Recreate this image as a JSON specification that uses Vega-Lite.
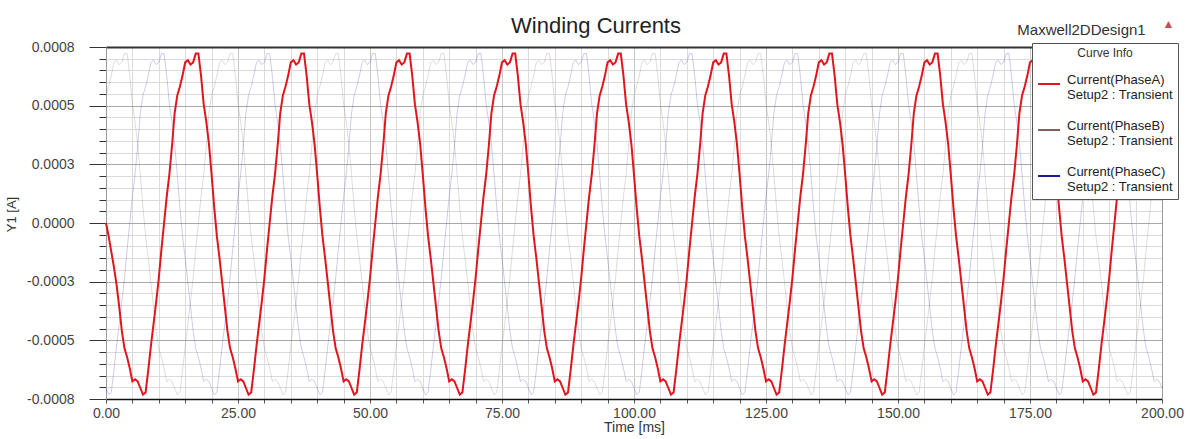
{
"$schema": "https://vega.github.io/schema/vega-lite/v6.json",
"width": 1056, "height": 352,
"autosize": "none",
"padding": {"left": 106, "top": 47, "right": 30, "bottom": 40},
"background": "white",
"config": {"font": "Liberation Sans", "view": {"stroke": null}},
"title": {"text": "Winding Currents", "fontSize": 22, "fontWeight": "normal", "color": "#222", "anchor": "middle", "dx": -38, "dy": 27, "offset": 6},
"data": {"values": [
{"t":0,"A":0,"B":0.00058,"C":-0.00075},{"t":0.5,"A":-0.00006,"B":0.00062,"C":-0.00078},{"t":1,"A":-0.00013,"B":0.00067,"C":-0.00077},{"t":1.5,"A":-0.0002,"B":0.00073,"C":-0.00067},{"t":2,"A":-0.00028,"B":0.00074,"C":-0.00056},{"t":2.5,"A":-0.00038,"B":0.00072,"C":-0.00046},{"t":3,"A":-0.00049,"B":0.00073,"C":-0.00036},{"t":3.5,"A":-0.00057,"B":0.00077,"C":-0.00025},{"t":4,"A":-0.00061,"B":0.00077,"C":-0.00012},{"t":4.5,"A":-0.00066,"B":0.00067,"C":0},{"t":5,"A":-0.00072,"B":0.00054,"C":0.00012},{"t":5.5,"A":-0.00071,"B":0.00046,"C":0.00022},{"t":6,"A":-0.00072,"B":0.00036,"C":0.00035},{"t":6.5,"A":-0.00075,"B":0.00022,"C":0.0005},{"t":7,"A":-0.00078,"B":0.00007,"C":0.00058},{"t":7.5,"A":-0.00077,"B":-0.00006,"C":0.00062},{"t":8,"A":-0.00067,"B":-0.00016,"C":0.00067},{"t":8.5,"A":-0.00056,"B":-0.00027,"C":0.00073},{"t":9,"A":-0.00046,"B":-0.00038,"C":0.00074},{"t":9.5,"A":-0.00036,"B":-0.00049,"C":0.00072},{"t":10,"A":-0.00025,"B":-0.00057,"C":0.00073},{"t":10.5,"A":-0.00012,"B":-0.00061,"C":0.00077},{"t":11,"A":0,"B":-0.00066,"C":0.00077},{"t":11.5,"A":0.00012,"B":-0.00072,"C":0.00067},{"t":12,"A":0.00022,"B":-0.00071,"C":0.00054},{"t":12.5,"A":0.00035,"B":-0.00072,"C":0.00046},{"t":13,"A":0.0005,"B":-0.00075,"C":0.00036},{"t":13.5,"A":0.00058,"B":-0.00078,"C":0.00022},{"t":14,"A":0.00062,"B":-0.00077,"C":0.00007},{"t":14.5,"A":0.00067,"B":-0.00067,"C":-0.00006},{"t":15,"A":0.00073,"B":-0.00056,"C":-0.00016},{"t":15.5,"A":0.00074,"B":-0.00046,"C":-0.00027},{"t":16,"A":0.00072,"B":-0.00036,"C":-0.00038},{"t":16.5,"A":0.00073,"B":-0.00025,"C":-0.00049},{"t":17,"A":0.00077,"B":-0.00012,"C":-0.00057},{"t":17.5,"A":0.00077,"B":0,"C":-0.00061},{"t":18,"A":0.00067,"B":0.00012,"C":-0.00066},{"t":18.5,"A":0.00054,"B":0.00022,"C":-0.00072},{"t":19,"A":0.00046,"B":0.00035,"C":-0.00071},{"t":19.5,"A":0.00036,"B":0.0005,"C":-0.00072},
{"t":20,"A":0.00022,"B":0.00058,"C":-0.00075},{"t":20.5,"A":0.00007,"B":0.00062,"C":-0.00078},{"t":21,"A":-0.00006,"B":0.00067,"C":-0.00077},{"t":21.5,"A":-0.00016,"B":0.00073,"C":-0.00067},{"t":22,"A":-0.00027,"B":0.00074,"C":-0.00056},{"t":22.5,"A":-0.00038,"B":0.00072,"C":-0.00046},{"t":23,"A":-0.00049,"B":0.00073,"C":-0.00036},{"t":23.5,"A":-0.00057,"B":0.00077,"C":-0.00025},{"t":24,"A":-0.00061,"B":0.00077,"C":-0.00012},{"t":24.5,"A":-0.00066,"B":0.00067,"C":0},{"t":25,"A":-0.00072,"B":0.00054,"C":0.00012},{"t":25.5,"A":-0.00071,"B":0.00046,"C":0.00022},{"t":26,"A":-0.00072,"B":0.00036,"C":0.00035},{"t":26.5,"A":-0.00075,"B":0.00022,"C":0.0005},{"t":27,"A":-0.00078,"B":0.00007,"C":0.00058},{"t":27.5,"A":-0.00077,"B":-0.00006,"C":0.00062},{"t":28,"A":-0.00067,"B":-0.00016,"C":0.00067},{"t":28.5,"A":-0.00056,"B":-0.00027,"C":0.00073},{"t":29,"A":-0.00046,"B":-0.00038,"C":0.00074},{"t":29.5,"A":-0.00036,"B":-0.00049,"C":0.00072},{"t":30,"A":-0.00025,"B":-0.00057,"C":0.00073},{"t":30.5,"A":-0.00012,"B":-0.00061,"C":0.00077},{"t":31,"A":0,"B":-0.00066,"C":0.00077},{"t":31.5,"A":0.00012,"B":-0.00072,"C":0.00067},{"t":32,"A":0.00022,"B":-0.00071,"C":0.00054},{"t":32.5,"A":0.00035,"B":-0.00072,"C":0.00046},{"t":33,"A":0.0005,"B":-0.00075,"C":0.00036},{"t":33.5,"A":0.00058,"B":-0.00078,"C":0.00022},{"t":34,"A":0.00062,"B":-0.00077,"C":0.00007},{"t":34.5,"A":0.00067,"B":-0.00067,"C":-0.00006},{"t":35,"A":0.00073,"B":-0.00056,"C":-0.00016},{"t":35.5,"A":0.00074,"B":-0.00046,"C":-0.00027},{"t":36,"A":0.00072,"B":-0.00036,"C":-0.00038},{"t":36.5,"A":0.00073,"B":-0.00025,"C":-0.00049},{"t":37,"A":0.00077,"B":-0.00012,"C":-0.00057},{"t":37.5,"A":0.00077,"B":0,"C":-0.00061},{"t":38,"A":0.00067,"B":0.00012,"C":-0.00066},{"t":38.5,"A":0.00054,"B":0.00022,"C":-0.00072},{"t":39,"A":0.00046,"B":0.00035,"C":-0.00071},{"t":39.5,"A":0.00036,"B":0.0005,"C":-0.00072},
{"t":40,"A":0.00022,"B":0.00058,"C":-0.00075},{"t":40.5,"A":0.00007,"B":0.00062,"C":-0.00078},{"t":41,"A":-0.00006,"B":0.00067,"C":-0.00077},{"t":41.5,"A":-0.00016,"B":0.00073,"C":-0.00067},{"t":42,"A":-0.00027,"B":0.00074,"C":-0.00056},{"t":42.5,"A":-0.00038,"B":0.00072,"C":-0.00046},{"t":43,"A":-0.00049,"B":0.00073,"C":-0.00036},{"t":43.5,"A":-0.00057,"B":0.00077,"C":-0.00025},{"t":44,"A":-0.00061,"B":0.00077,"C":-0.00012},{"t":44.5,"A":-0.00066,"B":0.00067,"C":0},{"t":45,"A":-0.00072,"B":0.00054,"C":0.00012},{"t":45.5,"A":-0.00071,"B":0.00046,"C":0.00022},{"t":46,"A":-0.00072,"B":0.00036,"C":0.00035},{"t":46.5,"A":-0.00075,"B":0.00022,"C":0.0005},{"t":47,"A":-0.00078,"B":0.00007,"C":0.00058},{"t":47.5,"A":-0.00077,"B":-0.00006,"C":0.00062},{"t":48,"A":-0.00067,"B":-0.00016,"C":0.00067},{"t":48.5,"A":-0.00056,"B":-0.00027,"C":0.00073},{"t":49,"A":-0.00046,"B":-0.00038,"C":0.00074},{"t":49.5,"A":-0.00036,"B":-0.00049,"C":0.00072},{"t":50,"A":-0.00025,"B":-0.00057,"C":0.00073},{"t":50.5,"A":-0.00012,"B":-0.00061,"C":0.00077},{"t":51,"A":0,"B":-0.00066,"C":0.00077},{"t":51.5,"A":0.00012,"B":-0.00072,"C":0.00067},{"t":52,"A":0.00022,"B":-0.00071,"C":0.00054},{"t":52.5,"A":0.00035,"B":-0.00072,"C":0.00046},{"t":53,"A":0.0005,"B":-0.00075,"C":0.00036},{"t":53.5,"A":0.00058,"B":-0.00078,"C":0.00022},{"t":54,"A":0.00062,"B":-0.00077,"C":0.00007},{"t":54.5,"A":0.00067,"B":-0.00067,"C":-0.00006},{"t":55,"A":0.00073,"B":-0.00056,"C":-0.00016},{"t":55.5,"A":0.00074,"B":-0.00046,"C":-0.00027},{"t":56,"A":0.00072,"B":-0.00036,"C":-0.00038},{"t":56.5,"A":0.00073,"B":-0.00025,"C":-0.00049},{"t":57,"A":0.00077,"B":-0.00012,"C":-0.00057},{"t":57.5,"A":0.00077,"B":0,"C":-0.00061},{"t":58,"A":0.00067,"B":0.00012,"C":-0.00066},{"t":58.5,"A":0.00054,"B":0.00022,"C":-0.00072},{"t":59,"A":0.00046,"B":0.00035,"C":-0.00071},{"t":59.5,"A":0.00036,"B":0.0005,"C":-0.00072},
{"t":60,"A":0.00022,"B":0.00058,"C":-0.00075},{"t":60.5,"A":0.00007,"B":0.00062,"C":-0.00078},{"t":61,"A":-0.00006,"B":0.00067,"C":-0.00077},{"t":61.5,"A":-0.00016,"B":0.00073,"C":-0.00067},{"t":62,"A":-0.00027,"B":0.00074,"C":-0.00056},{"t":62.5,"A":-0.00038,"B":0.00072,"C":-0.00046},{"t":63,"A":-0.00049,"B":0.00073,"C":-0.00036},{"t":63.5,"A":-0.00057,"B":0.00077,"C":-0.00025},{"t":64,"A":-0.00061,"B":0.00077,"C":-0.00012},{"t":64.5,"A":-0.00066,"B":0.00067,"C":0},{"t":65,"A":-0.00072,"B":0.00054,"C":0.00012},{"t":65.5,"A":-0.00071,"B":0.00046,"C":0.00022},{"t":66,"A":-0.00072,"B":0.00036,"C":0.00035},{"t":66.5,"A":-0.00075,"B":0.00022,"C":0.0005},{"t":67,"A":-0.00078,"B":0.00007,"C":0.00058},{"t":67.5,"A":-0.00077,"B":-0.00006,"C":0.00062},{"t":68,"A":-0.00067,"B":-0.00016,"C":0.00067},{"t":68.5,"A":-0.00056,"B":-0.00027,"C":0.00073},{"t":69,"A":-0.00046,"B":-0.00038,"C":0.00074},{"t":69.5,"A":-0.00036,"B":-0.00049,"C":0.00072},{"t":70,"A":-0.00025,"B":-0.00057,"C":0.00073},{"t":70.5,"A":-0.00012,"B":-0.00061,"C":0.00077},{"t":71,"A":0,"B":-0.00066,"C":0.00077},{"t":71.5,"A":0.00012,"B":-0.00072,"C":0.00067},{"t":72,"A":0.00022,"B":-0.00071,"C":0.00054},{"t":72.5,"A":0.00035,"B":-0.00072,"C":0.00046},{"t":73,"A":0.0005,"B":-0.00075,"C":0.00036},{"t":73.5,"A":0.00058,"B":-0.00078,"C":0.00022},{"t":74,"A":0.00062,"B":-0.00077,"C":0.00007},{"t":74.5,"A":0.00067,"B":-0.00067,"C":-0.00006},{"t":75,"A":0.00073,"B":-0.00056,"C":-0.00016},{"t":75.5,"A":0.00074,"B":-0.00046,"C":-0.00027},{"t":76,"A":0.00072,"B":-0.00036,"C":-0.00038},{"t":76.5,"A":0.00073,"B":-0.00025,"C":-0.00049},{"t":77,"A":0.00077,"B":-0.00012,"C":-0.00057},{"t":77.5,"A":0.00077,"B":0,"C":-0.00061},{"t":78,"A":0.00067,"B":0.00012,"C":-0.00066},{"t":78.5,"A":0.00054,"B":0.00022,"C":-0.00072},{"t":79,"A":0.00046,"B":0.00035,"C":-0.00071},{"t":79.5,"A":0.00036,"B":0.0005,"C":-0.00072},
{"t":80,"A":0.00022,"B":0.00058,"C":-0.00075},{"t":80.5,"A":0.00007,"B":0.00062,"C":-0.00078},{"t":81,"A":-0.00006,"B":0.00067,"C":-0.00077},{"t":81.5,"A":-0.00016,"B":0.00073,"C":-0.00067},{"t":82,"A":-0.00027,"B":0.00074,"C":-0.00056},{"t":82.5,"A":-0.00038,"B":0.00072,"C":-0.00046},{"t":83,"A":-0.00049,"B":0.00073,"C":-0.00036},{"t":83.5,"A":-0.00057,"B":0.00077,"C":-0.00025},{"t":84,"A":-0.00061,"B":0.00077,"C":-0.00012},{"t":84.5,"A":-0.00066,"B":0.00067,"C":0},{"t":85,"A":-0.00072,"B":0.00054,"C":0.00012},{"t":85.5,"A":-0.00071,"B":0.00046,"C":0.00022},{"t":86,"A":-0.00072,"B":0.00036,"C":0.00035},{"t":86.5,"A":-0.00075,"B":0.00022,"C":0.0005},{"t":87,"A":-0.00078,"B":0.00007,"C":0.00058},{"t":87.5,"A":-0.00077,"B":-0.00006,"C":0.00062},{"t":88,"A":-0.00067,"B":-0.00016,"C":0.00067},{"t":88.5,"A":-0.00056,"B":-0.00027,"C":0.00073},{"t":89,"A":-0.00046,"B":-0.00038,"C":0.00074},{"t":89.5,"A":-0.00036,"B":-0.00049,"C":0.00072},{"t":90,"A":-0.00025,"B":-0.00057,"C":0.00073},{"t":90.5,"A":-0.00012,"B":-0.00061,"C":0.00077},{"t":91,"A":0,"B":-0.00066,"C":0.00077},{"t":91.5,"A":0.00012,"B":-0.00072,"C":0.00067},{"t":92,"A":0.00022,"B":-0.00071,"C":0.00054},{"t":92.5,"A":0.00035,"B":-0.00072,"C":0.00046},{"t":93,"A":0.0005,"B":-0.00075,"C":0.00036},{"t":93.5,"A":0.00058,"B":-0.00078,"C":0.00022},{"t":94,"A":0.00062,"B":-0.00077,"C":0.00007},{"t":94.5,"A":0.00067,"B":-0.00067,"C":-0.00006},{"t":95,"A":0.00073,"B":-0.00056,"C":-0.00016},{"t":95.5,"A":0.00074,"B":-0.00046,"C":-0.00027},{"t":96,"A":0.00072,"B":-0.00036,"C":-0.00038},{"t":96.5,"A":0.00073,"B":-0.00025,"C":-0.00049},{"t":97,"A":0.00077,"B":-0.00012,"C":-0.00057},{"t":97.5,"A":0.00077,"B":0,"C":-0.00061},{"t":98,"A":0.00067,"B":0.00012,"C":-0.00066},{"t":98.5,"A":0.00054,"B":0.00022,"C":-0.00072},{"t":99,"A":0.00046,"B":0.00035,"C":-0.00071},{"t":99.5,"A":0.00036,"B":0.0005,"C":-0.00072},
{"t":100,"A":0.00022,"B":0.00058,"C":-0.00075},{"t":100.5,"A":0.00007,"B":0.00062,"C":-0.00078},{"t":101,"A":-0.00006,"B":0.00067,"C":-0.00077},{"t":101.5,"A":-0.00016,"B":0.00073,"C":-0.00067},{"t":102,"A":-0.00027,"B":0.00074,"C":-0.00056},{"t":102.5,"A":-0.00038,"B":0.00072,"C":-0.00046},{"t":103,"A":-0.00049,"B":0.00073,"C":-0.00036},{"t":103.5,"A":-0.00057,"B":0.00077,"C":-0.00025},{"t":104,"A":-0.00061,"B":0.00077,"C":-0.00012},{"t":104.5,"A":-0.00066,"B":0.00067,"C":0},{"t":105,"A":-0.00072,"B":0.00054,"C":0.00012},{"t":105.5,"A":-0.00071,"B":0.00046,"C":0.00022},{"t":106,"A":-0.00072,"B":0.00036,"C":0.00035},{"t":106.5,"A":-0.00075,"B":0.00022,"C":0.0005},{"t":107,"A":-0.00078,"B":0.00007,"C":0.00058},{"t":107.5,"A":-0.00077,"B":-0.00006,"C":0.00062},{"t":108,"A":-0.00067,"B":-0.00016,"C":0.00067},{"t":108.5,"A":-0.00056,"B":-0.00027,"C":0.00073},{"t":109,"A":-0.00046,"B":-0.00038,"C":0.00074},{"t":109.5,"A":-0.00036,"B":-0.00049,"C":0.00072},{"t":110,"A":-0.00025,"B":-0.00057,"C":0.00073},{"t":110.5,"A":-0.00012,"B":-0.00061,"C":0.00077},{"t":111,"A":0,"B":-0.00066,"C":0.00077},{"t":111.5,"A":0.00012,"B":-0.00072,"C":0.00067},{"t":112,"A":0.00022,"B":-0.00071,"C":0.00054},{"t":112.5,"A":0.00035,"B":-0.00072,"C":0.00046},{"t":113,"A":0.0005,"B":-0.00075,"C":0.00036},{"t":113.5,"A":0.00058,"B":-0.00078,"C":0.00022},{"t":114,"A":0.00062,"B":-0.00077,"C":0.00007},{"t":114.5,"A":0.00067,"B":-0.00067,"C":-0.00006},{"t":115,"A":0.00073,"B":-0.00056,"C":-0.00016},{"t":115.5,"A":0.00074,"B":-0.00046,"C":-0.00027},{"t":116,"A":0.00072,"B":-0.00036,"C":-0.00038},{"t":116.5,"A":0.00073,"B":-0.00025,"C":-0.00049},{"t":117,"A":0.00077,"B":-0.00012,"C":-0.00057},{"t":117.5,"A":0.00077,"B":0,"C":-0.00061},{"t":118,"A":0.00067,"B":0.00012,"C":-0.00066},{"t":118.5,"A":0.00054,"B":0.00022,"C":-0.00072},{"t":119,"A":0.00046,"B":0.00035,"C":-0.00071},{"t":119.5,"A":0.00036,"B":0.0005,"C":-0.00072},
{"t":120,"A":0.00022,"B":0.00058,"C":-0.00075},{"t":120.5,"A":0.00007,"B":0.00062,"C":-0.00078},{"t":121,"A":-0.00006,"B":0.00067,"C":-0.00077},{"t":121.5,"A":-0.00016,"B":0.00073,"C":-0.00067},{"t":122,"A":-0.00027,"B":0.00074,"C":-0.00056},{"t":122.5,"A":-0.00038,"B":0.00072,"C":-0.00046},{"t":123,"A":-0.00049,"B":0.00073,"C":-0.00036},{"t":123.5,"A":-0.00057,"B":0.00077,"C":-0.00025},{"t":124,"A":-0.00061,"B":0.00077,"C":-0.00012},{"t":124.5,"A":-0.00066,"B":0.00067,"C":0},{"t":125,"A":-0.00072,"B":0.00054,"C":0.00012},{"t":125.5,"A":-0.00071,"B":0.00046,"C":0.00022},{"t":126,"A":-0.00072,"B":0.00036,"C":0.00035},{"t":126.5,"A":-0.00075,"B":0.00022,"C":0.0005},{"t":127,"A":-0.00078,"B":0.00007,"C":0.00058},{"t":127.5,"A":-0.00077,"B":-0.00006,"C":0.00062},{"t":128,"A":-0.00067,"B":-0.00016,"C":0.00067},{"t":128.5,"A":-0.00056,"B":-0.00027,"C":0.00073},{"t":129,"A":-0.00046,"B":-0.00038,"C":0.00074},{"t":129.5,"A":-0.00036,"B":-0.00049,"C":0.00072},{"t":130,"A":-0.00025,"B":-0.00057,"C":0.00073},{"t":130.5,"A":-0.00012,"B":-0.00061,"C":0.00077},{"t":131,"A":0,"B":-0.00066,"C":0.00077},{"t":131.5,"A":0.00012,"B":-0.00072,"C":0.00067},{"t":132,"A":0.00022,"B":-0.00071,"C":0.00054},{"t":132.5,"A":0.00035,"B":-0.00072,"C":0.00046},{"t":133,"A":0.0005,"B":-0.00075,"C":0.00036},{"t":133.5,"A":0.00058,"B":-0.00078,"C":0.00022},{"t":134,"A":0.00062,"B":-0.00077,"C":0.00007},{"t":134.5,"A":0.00067,"B":-0.00067,"C":-0.00006},{"t":135,"A":0.00073,"B":-0.00056,"C":-0.00016},{"t":135.5,"A":0.00074,"B":-0.00046,"C":-0.00027},{"t":136,"A":0.00072,"B":-0.00036,"C":-0.00038},{"t":136.5,"A":0.00073,"B":-0.00025,"C":-0.00049},{"t":137,"A":0.00077,"B":-0.00012,"C":-0.00057},{"t":137.5,"A":0.00077,"B":0,"C":-0.00061},{"t":138,"A":0.00067,"B":0.00012,"C":-0.00066},{"t":138.5,"A":0.00054,"B":0.00022,"C":-0.00072},{"t":139,"A":0.00046,"B":0.00035,"C":-0.00071},{"t":139.5,"A":0.00036,"B":0.0005,"C":-0.00072},
{"t":140,"A":0.00022,"B":0.00058,"C":-0.00075},{"t":140.5,"A":0.00007,"B":0.00062,"C":-0.00078},{"t":141,"A":-0.00006,"B":0.00067,"C":-0.00077},{"t":141.5,"A":-0.00016,"B":0.00073,"C":-0.00067},{"t":142,"A":-0.00027,"B":0.00074,"C":-0.00056},{"t":142.5,"A":-0.00038,"B":0.00072,"C":-0.00046},{"t":143,"A":-0.00049,"B":0.00073,"C":-0.00036},{"t":143.5,"A":-0.00057,"B":0.00077,"C":-0.00025},{"t":144,"A":-0.00061,"B":0.00077,"C":-0.00012},{"t":144.5,"A":-0.00066,"B":0.00067,"C":0},{"t":145,"A":-0.00072,"B":0.00054,"C":0.00012},{"t":145.5,"A":-0.00071,"B":0.00046,"C":0.00022},{"t":146,"A":-0.00072,"B":0.00036,"C":0.00035},{"t":146.5,"A":-0.00075,"B":0.00022,"C":0.0005},{"t":147,"A":-0.00078,"B":0.00007,"C":0.00058},{"t":147.5,"A":-0.00077,"B":-0.00006,"C":0.00062},{"t":148,"A":-0.00067,"B":-0.00016,"C":0.00067},{"t":148.5,"A":-0.00056,"B":-0.00027,"C":0.00073},{"t":149,"A":-0.00046,"B":-0.00038,"C":0.00074},{"t":149.5,"A":-0.00036,"B":-0.00049,"C":0.00072},{"t":150,"A":-0.00025,"B":-0.00057,"C":0.00073},{"t":150.5,"A":-0.00012,"B":-0.00061,"C":0.00077},{"t":151,"A":0,"B":-0.00066,"C":0.00077},{"t":151.5,"A":0.00012,"B":-0.00072,"C":0.00067},{"t":152,"A":0.00022,"B":-0.00071,"C":0.00054},{"t":152.5,"A":0.00035,"B":-0.00072,"C":0.00046},{"t":153,"A":0.0005,"B":-0.00075,"C":0.00036},{"t":153.5,"A":0.00058,"B":-0.00078,"C":0.00022},{"t":154,"A":0.00062,"B":-0.00077,"C":0.00007},{"t":154.5,"A":0.00067,"B":-0.00067,"C":-0.00006},{"t":155,"A":0.00073,"B":-0.00056,"C":-0.00016},{"t":155.5,"A":0.00074,"B":-0.00046,"C":-0.00027},{"t":156,"A":0.00072,"B":-0.00036,"C":-0.00038},{"t":156.5,"A":0.00073,"B":-0.00025,"C":-0.00049},{"t":157,"A":0.00077,"B":-0.00012,"C":-0.00057},{"t":157.5,"A":0.00077,"B":0,"C":-0.00061},{"t":158,"A":0.00067,"B":0.00012,"C":-0.00066},{"t":158.5,"A":0.00054,"B":0.00022,"C":-0.00072},{"t":159,"A":0.00046,"B":0.00035,"C":-0.00071},{"t":159.5,"A":0.00036,"B":0.0005,"C":-0.00072},
{"t":160,"A":0.00022,"B":0.00058,"C":-0.00075},{"t":160.5,"A":0.00007,"B":0.00062,"C":-0.00078},{"t":161,"A":-0.00006,"B":0.00067,"C":-0.00077},{"t":161.5,"A":-0.00016,"B":0.00073,"C":-0.00067},{"t":162,"A":-0.00027,"B":0.00074,"C":-0.00056},{"t":162.5,"A":-0.00038,"B":0.00072,"C":-0.00046},{"t":163,"A":-0.00049,"B":0.00073,"C":-0.00036},{"t":163.5,"A":-0.00057,"B":0.00077,"C":-0.00025},{"t":164,"A":-0.00061,"B":0.00077,"C":-0.00012},{"t":164.5,"A":-0.00066,"B":0.00067,"C":0},{"t":165,"A":-0.00072,"B":0.00054,"C":0.00012},{"t":165.5,"A":-0.00071,"B":0.00046,"C":0.00022},{"t":166,"A":-0.00072,"B":0.00036,"C":0.00035},{"t":166.5,"A":-0.00075,"B":0.00022,"C":0.0005},{"t":167,"A":-0.00078,"B":0.00007,"C":0.00058},{"t":167.5,"A":-0.00077,"B":-0.00006,"C":0.00062},{"t":168,"A":-0.00067,"B":-0.00016,"C":0.00067},{"t":168.5,"A":-0.00056,"B":-0.00027,"C":0.00073},{"t":169,"A":-0.00046,"B":-0.00038,"C":0.00074},{"t":169.5,"A":-0.00036,"B":-0.00049,"C":0.00072},{"t":170,"A":-0.00025,"B":-0.00057,"C":0.00073},{"t":170.5,"A":-0.00012,"B":-0.00061,"C":0.00077},{"t":171,"A":0,"B":-0.00066,"C":0.00077},{"t":171.5,"A":0.00012,"B":-0.00072,"C":0.00067},{"t":172,"A":0.00022,"B":-0.00071,"C":0.00054},{"t":172.5,"A":0.00035,"B":-0.00072,"C":0.00046},{"t":173,"A":0.0005,"B":-0.00075,"C":0.00036},{"t":173.5,"A":0.00058,"B":-0.00078,"C":0.00022},{"t":174,"A":0.00062,"B":-0.00077,"C":0.00007},{"t":174.5,"A":0.00067,"B":-0.00067,"C":-0.00006},{"t":175,"A":0.00073,"B":-0.00056,"C":-0.00016},{"t":175.5,"A":0.00074,"B":-0.00046,"C":-0.00027},{"t":176,"A":0.00072,"B":-0.00036,"C":-0.00038},{"t":176.5,"A":0.00073,"B":-0.00025,"C":-0.00049},{"t":177,"A":0.00077,"B":-0.00012,"C":-0.00057},{"t":177.5,"A":0.00077,"B":0,"C":-0.00061},{"t":178,"A":0.00067,"B":0.00012,"C":-0.00066},{"t":178.5,"A":0.00054,"B":0.00022,"C":-0.00072},{"t":179,"A":0.00046,"B":0.00035,"C":-0.00071},{"t":179.5,"A":0.00036,"B":0.0005,"C":-0.00072},
{"t":180,"A":0.00022,"B":0.00058,"C":-0.00075},{"t":180.5,"A":0.00007,"B":0.00062,"C":-0.00078},{"t":181,"A":-0.00006,"B":0.00067,"C":-0.00077},{"t":181.5,"A":-0.00016,"B":0.00073,"C":-0.00067},{"t":182,"A":-0.00027,"B":0.00074,"C":-0.00056},{"t":182.5,"A":-0.00038,"B":0.00072,"C":-0.00046},{"t":183,"A":-0.00049,"B":0.00073,"C":-0.00036},{"t":183.5,"A":-0.00057,"B":0.00077,"C":-0.00025},{"t":184,"A":-0.00061,"B":0.00077,"C":-0.00012},{"t":184.5,"A":-0.00066,"B":0.00067,"C":0},{"t":185,"A":-0.00072,"B":0.00054,"C":0.00012},{"t":185.5,"A":-0.00071,"B":0.00046,"C":0.00022},{"t":186,"A":-0.00072,"B":0.00036,"C":0.00035},{"t":186.5,"A":-0.00075,"B":0.00022,"C":0.0005},{"t":187,"A":-0.00078,"B":0.00007,"C":0.00058},{"t":187.5,"A":-0.00077,"B":-0.00006,"C":0.00062},{"t":188,"A":-0.00067,"B":-0.00016,"C":0.00067},{"t":188.5,"A":-0.00056,"B":-0.00027,"C":0.00073},{"t":189,"A":-0.00046,"B":-0.00038,"C":0.00074},{"t":189.5,"A":-0.00036,"B":-0.00049,"C":0.00072},{"t":190,"A":-0.00025,"B":-0.00057,"C":0.00073},{"t":190.5,"A":-0.00012,"B":-0.00061,"C":0.00077},{"t":191,"A":0,"B":-0.00066,"C":0.00077},{"t":191.5,"A":0.00012,"B":-0.00072,"C":0.00067},{"t":192,"A":0.00022,"B":-0.00071,"C":0.00054},{"t":192.5,"A":0.00035,"B":-0.00072,"C":0.00046},{"t":193,"A":0.0005,"B":-0.00075,"C":0.00036},{"t":193.5,"A":0.00058,"B":-0.00078,"C":0.00022},{"t":194,"A":0.00062,"B":-0.00077,"C":0.00007},{"t":194.5,"A":0.00067,"B":-0.00067,"C":-0.00006},{"t":195,"A":0.00073,"B":-0.00056,"C":-0.00016},{"t":195.5,"A":0.00074,"B":-0.00046,"C":-0.00027},{"t":196,"A":0.00072,"B":-0.00036,"C":-0.00038},{"t":196.5,"A":0.00073,"B":-0.00025,"C":-0.00049},{"t":197,"A":0.00077,"B":-0.00012,"C":-0.00057},{"t":197.5,"A":0.00077,"B":0,"C":-0.00061},{"t":198,"A":0.00067,"B":0.00012,"C":-0.00066},{"t":198.5,"A":0.00054,"B":0.00022,"C":-0.00072},{"t":199,"A":0.00046,"B":0.00035,"C":-0.00071},{"t":199.5,"A":0.00036,"B":0.0005,"C":-0.00072},
{"t":200,"A":0.00022,"B":0.00058,"C":-0.00075}
]},
"transform": [{"fold": ["A", "B", "C"], "as": ["series", "v"]}],
"layer": [
{
"transform": [{"filter": "datum.series !== 'A'"}],
"mark": {"type": "line", "strokeWidth": 1, "strokeOpacity": 0.22},
"encoding": {
"x": {"field": "t", "type": "quantitative", "scale": {"domain": [0, 200], "nice": false},
"axis": {"orient": "bottom", "values": [0,5,10,15,20,25,30,35,40,45,50,55,60,65,70,75,80,85,90,95,100,105,110,115,120,125,130,135,140,145,150,155,160,165,170,175,180,185,190,195,200],
"labelExpr": "datum.value % 25 === 0 ? format(datum.value, '.2f') : ''",
"grid": true, "gridColor": {"condition": {"test": "datum.value % 25 === 0", "value": "#c6c6c6"}, "value": "#dcdcdc"},
"tickSize": 4, "tickColor": "#555", "domainColor": "#111", "domainWidth": 1.5,
"labelFontSize": 14, "labelColor": "#444", "labelPadding": 3, "labelFlush": false, "labelOverlap": false,
"title": "Time [ms]", "titleFontSize": 14, "titleFontWeight": "normal", "titleColor": "#333", "titlePadding": 0}},
"y": {"field": "v", "type": "quantitative", "scale": {"domain": [-0.0008, 0.0008], "nice": false, "zero": false},
"axis": {"orient": "left", "values": [-0.0008,-0.000746667,-0.000693333,-0.00064,-0.000586667,-0.000533333,-0.00048,-0.000426667,-0.000373333,-0.00032,-0.000266667,-0.000213333,-0.00016,-0.000106667,-0.0000533333,0,0.0000533333,0.000106667,0.00016,0.000213333,0.000266667,0.00032,0.000373333,0.000426667,0.00048,0.000533333,0.000586667,0.00064,0.000693333,0.000746667,0.0008],
"labelExpr": "abs(datum.value*3750 - round(datum.value*3750)) < 0.01 ? replace(format(datum.value, '.4f'), '\u2212', '-') : ''",
"grid": true, "gridColor": {"condition": {"test": "abs(datum.value*3750 - round(datum.value*3750)) < 0.01", "value": "#a9a9a9"}, "value": "#dadada"},
"tickSize": {"condition": {"test": "abs(datum.value*3750 - round(datum.value*3750)) < 0.01", "value": 17}, "value": 7},
"tickColor": "#333", "domainColor": "#999",
"labelFontSize": 14, "labelColor": "#444", "labelPadding": 15, "labelOverlap": false,
"title": "Y1 [A]", "titleFontSize": 13, "titleFontWeight": "normal", "titleColor": "#333", "titleX": -88, "titleY": 167}},
"color": {"field": "series", "type": "nominal", "scale": {"domain": ["A", "B", "C"], "range": ["#e0161e", "#7d6060", "#1b1b9e"]},
"legend": {"orient": "none", "legendX": 926, "legendY": -4, "title": "Curve Info", "titleFontSize": 12, "titleFontWeight": "normal", "titleColor": "#333", "titleAnchor": "middle", "titleAlign": "center", "titlePadding": 12,
"labelExpr": "['Current(Phase' + datum.label + ')', 'Setup2 : Transient']", "labelFontSize": 13, "labelColor": "#222", "labelBaseline": "alphabetic", "labelOffset": 6,
"symbolType": "stroke", "symbolSize": 480, "symbolStrokeWidth": 2, "symbolOpacity": 1,
"fillColor": "white", "strokeColor": "#555", "padding": 5, "rowPadding": 16}}
}
},
{
"transform": [{"filter": "datum.series === 'A'"}],
"mark": {"type": "line", "strokeWidth": 2},
"encoding": {
"x": {"field": "t", "type": "quantitative", "scale": {"domain": [0, 200], "nice": false},
"axis": {"orient": "top", "labels": false, "ticks": false, "grid": false, "domainColor": "#333", "domainWidth": 2,
"title": "Maxwell2DDesign1", "titleFontSize": 15, "titleFontWeight": "normal", "titleColor": "#333", "titleX": 975, "titleY": -13, "titleAlign": "center", "titleBaseline": "alphabetic"}},
"y": {"field": "v", "type": "quantitative", "scale": {"domain": [-0.0008, 0.0008], "nice": false, "zero": false},
"axis": {"orient": "right", "labels": false, "ticks": false, "grid": false, "domainColor": "#9a9a9a",
"title": "▲", "titleAngle": 0, "titleColor": "#c0504d", "titleFontSize": 12, "titleX": 6, "titleY": -24, "titleAlign": "center", "titleBaseline": "middle"}},
"color": {"field": "series", "type": "nominal"}
}
}
],
"resolve": {"axis": {"x": "independent", "y": "independent"}}
}
